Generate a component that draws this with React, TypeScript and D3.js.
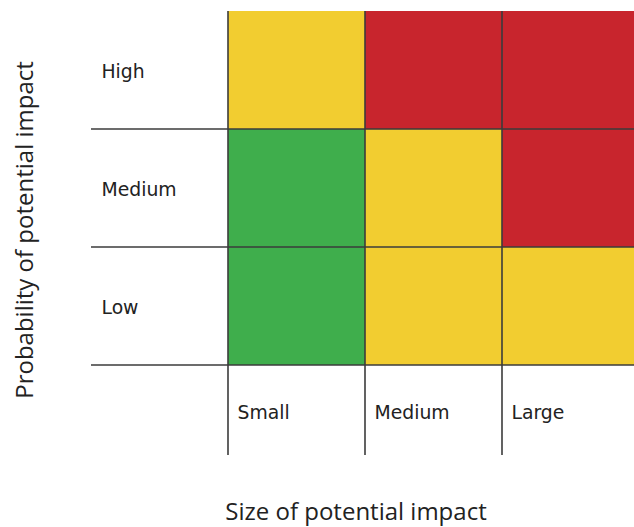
import { scaleBand, scaleOrdinal } from "d3";

const WIDTH = 634;
const HEIGHT = 527;

const impactSizes = ["Small", "Medium", "Large"];
const probabilities = ["High", "Medium", "Low"];
const highRow = ["moderate", "severe", "severe"];
const mediumRow = ["minor", "moderate", "severe"];
const lowRow = ["minor", "moderate", "moderate"];
const riskLevels = ["minor", "moderate", "severe"];
const riskColors = ["#3fae4c", "#f2cd30", "#c8252d"];

const LINE = "#3b3b3b";

export default function App() {
  const x = scaleBand<string>().domain(impactSizes).range([228, 639]);
  const y = scaleBand<string>().domain(probabilities).range([11, 365]);
  const color = scaleOrdinal<string, string>().domain(riskLevels).range(riskColors);

  const rows = [highRow, mediumRow, lowRow];
  const cells = probabilities.flatMap((p, ri) =>
    impactSizes.map((s, ci) => ({ p, s, level: rows[ri][ci] }))
  );

  const gridLeft = 91;
  const lineBottom = 455;

  return (
    <svg
      width={WIDTH}
      height={HEIGHT}
      viewBox={`0 0 ${WIDTH} ${HEIGHT}`}
      style={{ position: "absolute", left: 0, top: 0, background: "#fff" }}
    >
      {cells.map((c) => (
        <rect
          key={`${c.p}-${c.s}`}
          x={x(c.s)}
          y={y(c.p)}
          width={x.bandwidth()}
          height={y.bandwidth()}
          fill={color(c.level)}
        />
      ))}

      {impactSizes.map((s) => (
        <line
          key={`v-${s}`}
          x1={x(s)}
          x2={x(s)}
          y1={y.range()[0]}
          y2={lineBottom}
          stroke={LINE}
          strokeWidth={1.6}
        />
      ))}
      {probabilities.map((p) => (
        <line
          key={`h-${p}`}
          x1={gridLeft}
          x2={WIDTH}
          y1={(y(p) ?? 0) + y.bandwidth()}
          y2={(y(p) ?? 0) + y.bandwidth()}
          stroke={LINE}
          strokeWidth={1.6}
        />
      ))}

      <g fontFamily="'DejaVu Sans', Verdana, sans-serif" fontSize={18.8} fill="#222">
        {probabilities.map((p) => (
          <text key={`rl-${p}`} x={gridLeft + 10.5} y={(y(p) ?? 0) + y.bandwidth() / 2 + 8}>
            {p}
          </text>
        ))}
        {impactSizes.map((s) => (
          <text key={`cl-${s}`} x={(x(s) ?? 0) + 9.5} y={419}>
            {s}
          </text>
        ))}
      </g>

      <g fontFamily="'Open Sans', sans-serif" fontSize={24} fill="#222">
        <text x={356} y={520} textAnchor="middle">
          Size of potential impact
        </text>
        <text transform="translate(33,230) rotate(-90)" textAnchor="middle">
          Probability of potential impact
        </text>
      </g>
    </svg>
  );
}
